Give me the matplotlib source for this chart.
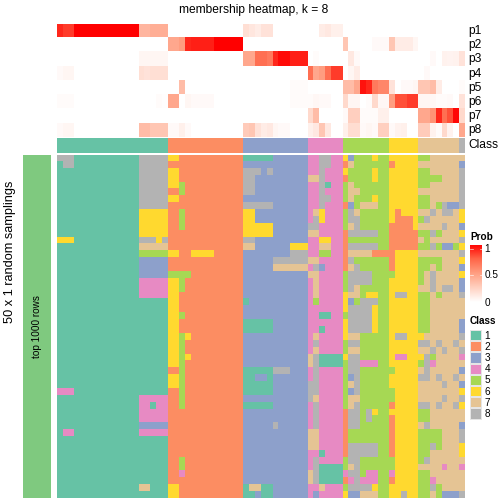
#!/usr/bin/env python3
"""membership heatmap, k = 8 (ComplexHeatmap style layout)"""
import matplotlib
matplotlib.use("Agg")
import matplotlib.pyplot as plt
import numpy as np
from matplotlib.colors import LinearSegmentedColormap, ListedColormap
from matplotlib.patches import Rectangle

plt.rcParams["font.family"] = ["Liberation Sans", "DejaVu Sans"]

CLASS_COLORS = ["#66C2A5", "#FC8D62", "#8DA0CB", "#E78AC3",
                "#A6D854", "#FFD92F", "#E5C494", "#B3B3B3"]
PROB_COLORS = ["#FFFFFF", "#FFD0C0", "#FF9E81", "#FF6447", "#FF0000"]
CLASS_LABELS = ["1", "2", "3", "4", "5", "6", "7", "8"]
PROB_TICKS = ["1", "0.5", "0"]
ROW_NAMES = ["p1", "p2", "p3", "p4", "p5", "p6", "p7", "p8"]

# class of each column
COL_CLASS = "1" * 19 + "2" * 13 + "3" * 11 + "4" * 6 + "5" * 8 + "6" * 5 + "7" * 7 + "8"

# membership probabilities, one line per column class
p1 = [.9, .85, .85, 1, 1, 1, 1, 1, 1, 1, 1, 1, 1, 1, .38, .38, .42, .42, .42,
      0, 0, 0, 0, 0, 0, 0, 0, 0, 0, 0, 0, 0,
      .17, .13, .1, .15, .15, 0, 0, 0, 0, 0, 0,
      0, 0, .1, .12, .08, .08,
      0, 0, 0, 0, 0, 0, 0, 0,
      0, 0, 0, 0, 0,
      0, 0, 0, 0, 0, 0, 0,
      0]
p2 = [0, 0, 0, 0, 0, 0, 0, 0, 0, 0, 0, 0, 0, 0, 0, 0, 0, 0, 0,
      .45, .45, .5, .9, .92, .92, .92, .92, 1, 1, 1, 1, 1,
      0, 0, 0, 0, 0, 0, 0, 0, 0, 0, 0,
      0, 0, 0, 0, 0, 0,
      .3, 0, 0, 0, 0, .03, .03, .03,
      .3, .1, .1, .1, .05,
      0, 0, 0, 0, 0, 0, 0,
      0]
p3 = [0, 0, 0, 0, 0, 0, 0, 0, 0, 0, 0, 0, 0, 0, .05, .05, .05, .05, .05,
      0, 0, 0, 0, 0, 0, 0, 0, 0, 0, 0, 0, 0,
      .45, .45, .7, .7, .65, .9, .97, .97, .92, .92, .92,
      0, .02, 0, 0, 0, 0,
      0, .12, .03, 0, 0, 0, 0, 0,
      0, 0, 0, 0, 0,
      0, 0, .03, 0, .07, .06, .07,
      .15]
p4 = [.03, .05, .05, 0, 0, 0, 0, 0, 0, 0, 0, 0, 0, 0, .17, .15, .17, .17, .17,
      0, 0, 0, 0, 0, 0, 0, 0, 0, 0, 0, 0, 0,
      0, 0, 0, 0, 0, 0, 0, 0, 0, 0, 0,
      .7, .45, .5, .7, .85, .85,
      0, .05, .1, 0, 0, 0, 0, 0,
      0, 0, 0, 0, 0,
      0, .03, 0, 0, 0, 0, 0,
      0]
p5 = [0, 0, 0, 0, 0, 0, 0, 0, 0, 0, 0, 0, 0, 0, 0, 0, 0, 0, 0,
      0, 0, .35, 0, 0, 0, 0, 0, 0, 0, 0, 0, 0,
      0, 0, 0, 0, 0, 0, 0, 0, .02, .02, .02,
      0, 0, 0, 0, 0, 0,
      .35, .35, .45, .95, .9, .65, .6, .6,
      .15, 0, .03, .03, .05,
      .3, .3, .35, .1, 0, 0, 0,
      .02]
p6 = [.02, .02, .02, 0, 0, 0, 0, 0, 0, 0, 0, 0, 0, 0, 0, 0, 0, .02, .01,
      .45, .45, 0, .05, .03, .03, .03, .03, 0, 0, 0, 0, 0,
      0, 0, 0, 0, 0, 0, 0, 0, .02, .02, .02,
      .02, .04, .03, .03, 0, 0,
      .2, .05, .05, 0, .02, .2, .04, .04,
      .5, .8, .8, .85, .85,
      .05, .05, .04, .02, .02, .03, 0,
      .15]
p7 = [0, 0, 0, 0, 0, 0, 0, 0, 0, 0, 0, 0, 0, 0, 0, 0, 0, 0, 0,
      0, 0, 0, 0, 0, 0, 0, 0, 0, 0, 0, 0, 0,
      0, 0, 0, 0, 0, 0, 0, 0, 0, 0, 0,
      .2, .35, 0, 0, 0, 0,
      .03, .25, .25, .02, .02, .02, .08, .08,
      0, 0, 0, 0, 0,
      .45, .45, .55, .9, .7, .8, .98,
      .2]
p8 = [.03, .05, .05, 0, 0, 0, 0, 0, 0, 0, 0, 0, 0, 0, .35, .35, .3, .3, .3,
      .03, .03, .08, .03, 0, 0, 0, 0, 0, 0, 0, 0, 0,
      .27, .3, .15, .1, .12, .05, .03, .03, 0, 0, 0,
      .08, .12, .3, .12, 0, 0,
      .08, .18, .18, .03, .05, .03, .25, .25,
      .03, .07, .08, 0, 0,
      .27, .27, .07, .02, .2, .07, 0,
      .45]

# 50 random samplings, one string per row, split by column class
SAMPLINGS = [
    "888 11111111111 88888 6622222222222 11111333333 448844 63555655 66666 5577777 7",
    "188 11111111111 88888 2222222222222 33333333333 448844 27555555 26666 7777777 3",
    "111 11111111111 88888 6622222222222 88838333333 448444 65555655 66666 5577777 8",
    "111 11111111111 88888 6622222222222 88333333333 778444 25555655 66666 5555777 8",
    "111 11111111111 88888 6652222222222 88333333333 448144 57555555 66666 5577777 8",
    "111 11111111111 88888 2252222222222 88333333333 448444 57755555 66666 7777777 8",
    "111 11111111111 88888 6622222222222 33333333333 448844 57555655 66666 5577777 8",
    "111 11111111111 88888 2222222222222 88888333333 448444 23577755 66666 5575833 8",
    "111 11111111111 66666 2252222222222 66333333333 476444 58755555 62666 7787887 6",
    "111 11111111111 66666 2252222222222 66333333333 486444 58855555 62226 5877777 6",
    "111 11111111111 66666 2252222222222 66666333333 884444 57855555 22226 7777877 3",
    "111 11111111111 66666 2222222222222 66666333333 774444 28888855 22222 5585777 6",
    "666 11111111111 88868 2222222222222 88333333333 446644 25555555 22222 7577777 8",
    "111 11111111111 77777 2222222222222 77333333666 447744 28888855 22222 5585335 6",
    "111 11111111111 55555 6622666622222 33333333888 445544 27777222 26666 7777777 8",
    "111 11111111111 33333 2222222222222 33333888888 774444 28555555 26666 5555777 6",
    "111 11111111111 33333 2222222222222 33333777777 483444 27855555 26666 5575777 3",
    "111 11111111111 33333 5555222222222 33333333333 774444 58888555 56666 5787777 6",
    "111 11111111111 44444 6652222222222 33333333333 474444 58888555 66666 5787777 3",
    "111 11111111111 44444 6652222222222 33333333333 474444 58755555 66666 7787887 3",
    "111 11111111111 44444 6622222222222 33333333333 474444 67756655 68866 5575777 8",
    "111 11111111111 11111 6622222222222 13333333333 454444 63588855 66666 5577777 7",
    "111 11111111111 11111 6622222222222 33333333333 444444 68888655 66666 5577777 7",
    "111 11111111111 11111 6652222222222 33333333333 441144 58888655 66666 5577777 7",
    "111 11111111111 11111 6622222222222 11111333333 444444 68888655 66666 5577777 3",
    "111 11111111111 11111 6622222222222 11111333333 441444 68888655 66666 5577777 3",
    "111 11111111111 11111 6656222222222 33333333333 474444 67755555 68866 6777777 8",
    "111 11111111111 11111 6652222222222 33333333333 484444 58855555 66666 8878778 7",
    "111 11111111111 11111 6652222222222 33333333333 474444 57755555 66666 7787877 8",
    "111 11111111111 11111 6656222222222 33333333333 781111 68855555 64466 6857777 4",
    "111 11111111111 11111 6652222222222 33333333333 781111 58844455 66666 5847777 7",
    "111 11111111111 11111 2252222222222 11111888333 484444 58855555 56666 7877777 3",
    "111 11111111111 11111 6652222222222 11331333333 484444 53855555 66666 8878778 7",
    "111 11111111111 11111 6652222222222 11111333333 884444 57855555 66666 7777877 3",
    "444 11111111111 11111 2252222222222 11111333333 884444 53855555 56666 7777777 6",
    "111 11111111111 44444 2252222222222 33333333333 874444 57755555 56666 7777877 8",
    "111 11111111111 44144 2252222222222 11111333333 484444 57855555 26666 8878778 6",
    "111 11111111111 44444 2222222222222 33333333333 484444 28858655 66666 5577777 7",
    "111 11111111111 44444 2222222222222 33333333333 484444 28858555 26666 5577777 7",
    "111 11111111111 33333 2222222222222 33333833333 484444 28855555 26666 7877777 3",
    "144 11111111111 44444 2222222222222 33333333333 774444 25555555 26666 5555777 8",
    "111 11111111111 11111 2222222222222 33333333333 774444 25555555 26666 5555777 8",
    "111 11111111111 11111 2222222222222 33333333333 774444 28888855 26666 5585777 6",
    "111 11111111111 11111 2222222222222 33333333333 441444 28888855 26666 5577777 6",
    "111 11111111111 11111 2252222222222 33333333333 484444 58855555 56666 5877777 7",
    "111 11111111111 11111 2252222222222 33333333333 481111 57855555 56666 7777477 4",
    "111 11111111111 11111 2242222222222 33333333333 781111 48854455 46666 5577777 7",
    "111 11111111111 11111 2222222222222 33333333333 781111 24844455 26666 5547777 7",
    "111 11111111111 77111 6622222222222 17711333333 447444 58888655 66666 5585777 7",
    "111 11111111111 11111 6622222222222 11311333333 434444 63377755 66866 5575333 8",
]

W = H = 504
class_cmap = ListedColormap(CLASS_COLORS)
prob_cmap = LinearSegmentedColormap.from_list("prob", PROB_COLORS)

fig = plt.figure(figsize=(7, 7), dpi=72, facecolor="white")


def px_axes(x0, y0, x1, y1):
    """pixel box (y from the top) -> axes without decoration"""
    ax = fig.add_axes([x0 / W, 1 - y1 / H, (x1 - x0) / W, (y1 - y0) / H])
    ax.set_axis_off()
    return ax


def to_grid(rows):
    return np.array([[int(c) - 1 for c in r.replace(" ", "")] for r in rows])


# membership rows
probs = np.array([p1, p2, p3, p4, p5, p6, p7, p8])
ax = px_axes(57, 24, 465, 137.5)
ax.imshow(probs, cmap=prob_cmap, vmin=0, vmax=1, aspect="auto", interpolation="nearest")

# class strip
ax = px_axes(57, 138, 465, 153)
ax.imshow(to_grid([COL_CLASS]), cmap=class_cmap, vmin=0, vmax=7, aspect="auto",
          interpolation="nearest")

# main heatmap
ax = px_axes(57, 155, 465, 498.3)
ax.imshow(to_grid(SAMPLINGS), cmap=class_cmap, vmin=0, vmax=7, aspect="auto",
          interpolation="nearest")

# overlay in pixel coordinates for bar, texts and legends
ov = fig.add_axes([0, 0, 1, 1], zorder=5)
ov.set_xlim(0, W)
ov.set_ylim(H, 0)
ov.set_axis_off()
ov.patch.set_alpha(0)

ov.add_patch(Rectangle((23, 155), 28, 343.3, facecolor="#7FC97F", edgecolor="none"))
ov.text(37.5, 327, "top 1000 rows", rotation=90, ha="center", va="center", fontsize=10)
ov.text(10.5, 252, "50 x 1 random samplings", rotation=90, ha="center", va="center", fontsize=12.7)
ov.text(254, 10.5, "membership heatmap, k = 8", ha="center", va="center", fontsize=12)

for i, name in enumerate(ROW_NAMES):
    ov.text(468.5, 24 + 14.17 * (i + 0.5), name, ha="left", va="center", fontsize=12)
ov.text(468.5, 145.5, "Class", ha="left", va="center", fontsize=12)

# Prob legend
ov.text(470, 237, "Prob", ha="left", va="center", fontsize=10, fontweight="bold")
cax = px_axes(470, 245, 482, 302.5)
cax.imshow(np.linspace(1, 0, 200).reshape(-1, 1), cmap=prob_cmap, vmin=0, vmax=1,
           aspect="auto")
for y in (248.5, 275):
    for x0, x1 in ((470, 472.5), (479.5, 482)):
        ov.plot([x0, x1], [y, y], color="white", lw=0.7, alpha=0.8)
for y, lab in zip((248.5, 275, 303), PROB_TICKS):
    ov.text(484.5, y, lab, ha="left", va="center", fontsize=10)

# Class legend
ov.text(470, 321, "Class", ha="left", va="center", fontsize=10, fontweight="bold")
for i, (col, lab) in enumerate(zip(CLASS_COLORS, CLASS_LABELS)):
    y = 330 + 11.2 * i
    ov.add_patch(Rectangle((470, y), 12, 11.2, facecolor="#E5E5E5", edgecolor="none"))
    ov.add_patch(Rectangle((471, y + 1), 10, 9.2, facecolor=col, edgecolor="none"))
    ov.text(484.5, y + 5.6, lab, ha="left", va="center", fontsize=10)

fig.savefig("out.png", dpi=72, facecolor="white")
plt.close(fig)
